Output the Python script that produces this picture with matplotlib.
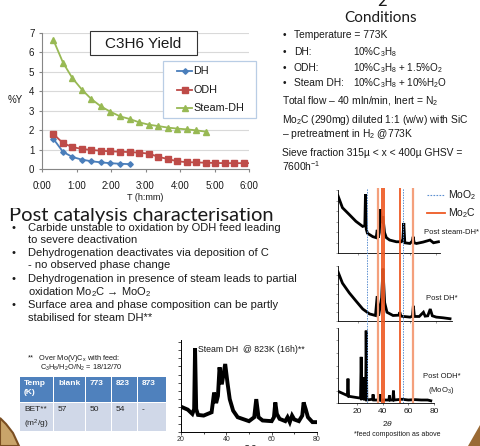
import numpy as np
import matplotlib
matplotlib.use('Agg')
import matplotlib.pyplot as plt
from matplotlib.patches import Rectangle, Polygon

plt.rcParams['font.family'] = ['Liberation Sans', 'DejaVu Sans']
plt.rcParams['mathtext.fontset'] = 'custom'
plt.rcParams['mathtext.rm'] = 'Liberation Sans'
plt.rcParams['mathtext.it'] = 'Liberation Sans:italic'
plt.rcParams['mathtext.default'] = 'regular'

# C3H6 yield data (time in hours)
dh_time = [0.33, 0.61, 0.88, 1.16, 1.43, 1.71, 1.98, 2.26, 2.55]
dh_yield = [1.55, 0.88, 0.62, 0.48, 0.40, 0.34, 0.30, 0.27, 0.25]
odh_time = [0.33, 0.61, 0.88, 1.16, 1.43, 1.71, 1.98, 2.26, 2.55, 2.82, 3.10,
            3.37, 3.65, 3.92, 4.20, 4.47, 4.75, 5.02, 5.30, 5.57, 5.85, 6.0]
odh_yield = [1.80, 1.33, 1.13, 1.03, 0.98, 0.94, 0.91, 0.89, 0.87, 0.84, 0.79,
             0.63, 0.51, 0.40, 0.35, 0.34, 0.32, 0.31, 0.30, 0.30, 0.30, 0.30]
steam_time = [0.33, 0.61, 0.88, 1.16, 1.43, 1.71, 1.98, 2.26, 2.55, 2.82, 3.10,
              3.37, 3.65, 3.92, 4.20, 4.47, 4.75]
steam_yield = [6.64, 5.47, 4.68, 4.08, 3.60, 3.22, 2.95, 2.71, 2.57, 2.40, 2.28,
               2.21, 2.13, 2.08, 2.04, 1.99, 1.92]
time_ticks = [0, 1, 2, 3, 4, 5, 6]
time_labels = ['0:00', '1:00', '2:00', '3:00', '4:00', '5:00', '6:00']

# XRD patterns (2theta, intensity a.u.)
sdh823_tt = [20, 23, 25, 25.8, 26.2, 26.7, 27.5, 30, 33.5, 34.6, 35.5, 36.3, 37.0, 38.0,
             39.5, 40.5, 41.5, 43, 45, 50, 52.3, 53.2, 54.2, 56, 60, 61.0, 61.6, 62.3,
             63.5, 66, 67, 68, 69, 70, 72, 73.5, 74.1, 75, 76, 78, 80]
sdh823_int = [77, 68, 55, 70, 255, 70, 52, 50, 60, 120, 88, 110, 197, 145,
              207, 150, 100, 65, 45, 33, 45, 100, 45, 35, 33, 45, 90, 55,
              40, 33, 45, 30, 50, 38, 33, 50, 90, 70, 45, 30, 30]

psdh_tt = [5, 8.4, 13.6, 18.7, 23.9, 25.5, 26, 26.6, 27.5, 31.6, 34.2, 35, 35.8, 36.6,
           37.5, 38.3, 39.3, 40.6, 42, 44.5, 49.6, 53.5, 54.6, 55.3, 56.1, 60, 61.8,
           62.5, 63.2, 65, 70, 75.4, 78, 81.8]
psdh_int = [168, 133, 113, 93, 78, 80, 173, 70, 58, 48, 45, 68, 45, 60,
            128, 88, 108, 60, 45, 38, 33, 33, 40, 88, 30, 28, 35,
            48, 30, 28, 32, 38, 30, 33]

pdh_tt = [5, 8.4, 13.6, 18.7, 23.9, 29, 33.6, 34.9, 36, 37.3, 38.3, 39.3, 40.6, 42.4,
          47, 51.5, 52.2, 53, 60, 61.8, 62.5, 63.3, 67, 70.2, 71.5, 73.5, 75.4, 77,
          80, 85, 90.5]
pdh_int = [152, 117, 87, 62, 37, 22, 17, 77, 17, 47, 72, 162, 57, 27,
           17, 18, 27, 15, 12, 15, 47, 14, 14, 27, 15, 16, 37, 16,
           12, 10, 7]

podh_tt = [5.8, 12.3, 12.8, 13.3, 18.7, 22.6, 23.1, 23.6, 24.8, 25.2, 25.7, 26.6, 27.0,
           27.5, 32.0, 32.4, 32.9, 37.6, 38.0, 38.5, 44.8, 45.2, 45.7, 47.9, 48.3, 48.8,
           55, 60, 65, 70, 75, 77.5]
podh_int = [30, 20, 65, 18, 15, 13, 123, 11, 12, 68, 10, 10, 193,
            8, 10, 23, 8, 8, 23, 8, 8, 20, 8, 8, 33, 8,
            10, 8, 9, 8, 8, 6]

moo2_lines = [26.9, 54.8]
mo2c_lines = [35.5, 38.5, 39.8, 52.2, 62.5]

# table
tab_cols = ['Temp\n(K)', 'blank', '773', '823', '873']
tab_vals = ['BET**\n(m$^2$/g)', '57', '50', '54', '-']

W, H = 480, 446
fig = plt.figure(figsize=(W / 100, H / 100), dpi=100)
fig.patch.set_facecolor('white')


def px_axes(x0, y0, x1, y1, **kw):
    return fig.add_axes([x0 / W, 1 - y1 / H, (x1 - x0) / W, (y1 - y0) / H], **kw)


# overlay in pixel coordinates (drawn above the chart axes)
bg = px_axes(0, 0, W, H)
bg.set_xlim(0, W)
bg.set_ylim(H, 0)
bg.axis('off')
bg.set_zorder(2)

txt = '#1a1a1a'
# decorations in corners
bg.add_patch(Polygon([(0, 418), (6, 424), (13, 433), (19, 446), (0, 446)],
                     closed=True, facecolor='#c9a46a', edgecolor='#7a4e22', lw=1.5))
bg.add_patch(Polygon([(480, 425), (480, 446), (468, 446)], closed=True,
                     facecolor='#9a6a35', edgecolor='none'))

# Conditions text
fs_c = 7.4
bg.text(382, 5.5, '2', fontsize=12, family='Lato', ha='center', va='baseline', color=txt)
bg.text(381, 18, 'Conditions', fontsize=11, family='Lato', ha='center', va='center', color=txt)
cond = [('Temperature = 773K', ''),
        ('DH:', '10%C$_3$H$_8$'),
        ('ODH:', '10%C$_3$H$_8$ + 1.5%O$_2$'),
        ('Steam DH:', '10%C$_3$H$_8$ + 10%H$_2$O')]
for (lab, val), yy in zip(cond, [35, 52, 68, 83]):
    bg.text(283, yy, '•', fontsize=fs_c, va='center', color=txt)
    bg.text(294, yy, lab, fontsize=fs_c, va='center', color=txt)
    if val:
        bg.text(353, yy, val, fontsize=7.1, va='center', color=txt)
bg.text(282, 101, 'Total flow – 40 mln/min, Inert = N$_2$', fontsize=fs_c, va='center', color=txt)
bg.text(282, 120, 'Mo$_2$C (290mg) diluted 1:1 (w/w) with SiC', fontsize=fs_c, va='center', color=txt)
bg.text(282, 134, '– pretreatment in H$_2$ @773K', fontsize=fs_c, va='center', color=txt)
bg.text(282, 153, 'Sieve fraction 315µ < x < 400µ GHSV =', fontsize=fs_c, va='center', color=txt)
bg.text(282, 166, '7600h$^{-1}$', fontsize=fs_c, va='center', color=txt)

# heading and bullets
bg.text(9, 220.5, 'Post catalysis characterisation', fontsize=14.5, family='Lato',
        va='baseline', color=txt)
bg.add_patch(Rectangle((0, 202.5), 280, 5.5, facecolor='white', edgecolor='none', zorder=5))
bg.text(145, 198, 'T (h:mm)', fontsize=6.5, ha='center', va='center', color=txt, zorder=6)

bullets = [(228, 'Carbide unstable to oxidation by ODH feed leading', True),
           (240, 'to severe deactivation', False),
           (253, 'Dehydrogenation deactivates via deposition of C', True),
           (265.5, '- no observed phase change', False),
           (279.5, 'Dehydrogenation in presence of steam leads to partial', True),
           (292, 'oxidation Mo$_2$C → MoO$_2$', False),
           (305.5, 'Surface area and phase composition can be partly', True),
           (318, 'stabilised for steam DH**', False)]
for yy, s, b in bullets:
    if b:
        bg.text(12, yy, '•', fontsize=8, va='center', color=txt)
    bg.text(28, yy, s, fontsize=8, va='center', color=txt)

# footnote and table
bg.text(27, 358, '**   Over Mo(V)C$_x$ with feed:', fontsize=5.3, va='center', color=txt)
bg.text(40, 368, 'C$_3$H$_8$/H$_2$O/N$_2$ = 18/12/70', fontsize=5.3, va='center', color=txt)
col_edges = [20, 54, 86, 112, 138, 167]
row_edges = [377, 403, 431]
for i in range(len(tab_cols)):
    x0, x1 = col_edges[i], col_edges[i + 1]
    bg.add_patch(Rectangle((x0, row_edges[0]), x1 - x0 - 1, row_edges[1] - row_edges[0] - 1,
                           facecolor='#4f81bd', edgecolor='none'))
    bg.add_patch(Rectangle((x0, row_edges[1]), x1 - x0 - 1, row_edges[2] - row_edges[1],
                           facecolor='#d0d8e8', edgecolor='none'))
    bg.text(x0 + 4, row_edges[0] + 3, tab_cols[i], fontsize=6, weight='bold', color='white',
            va='top', linespacing=1.5)
    bg.text(x0 + 4, row_edges[1] + 3, tab_vals[i], fontsize=6, color='#222222',
            va='top', linespacing=1.5)

# main yield chart
series = [('DH', dh_time, dh_yield, '#4a7ebb', 'D', 2.8),
          ('ODH', odh_time, odh_yield, '#be4b48', 's', 4),
          ('Steam-DH', steam_time, steam_yield, '#98b954', '^', 4)]
ax = px_axes(42, 33, 249, 169)
ax.set_facecolor('none')
for name, t, y, c, m, ms in series:
    ax.plot(t, y, color=c, marker=m, ms=ms, lw=1.3,
            markevery=list(range(min(len(t), 21))))
ax.set_xlim(0, 6)
ax.set_ylim(0, 7)
ax.set_xticks(time_ticks)
ax.set_xticklabels(time_labels)
ax.set_yticks(range(8))
ax.tick_params(labelsize=7, length=2.5, color='#868686', colors=txt, pad=3)
ax.tick_params(axis='x', pad=6)
ax.grid(axis='y', color='#d9d9d9', lw=0.8)
ax.set_axisbelow(True)
for s in ['top', 'right']:
    ax.spines[s].set_visible(False)
for s in ['left', 'bottom']:
    ax.spines[s].set_color('#868686')
bg.text(15, 100, '%Y', fontsize=7, ha='center', va='center', color=txt)
bg.add_patch(Rectangle((90, 31), 107, 24, facecolor='white', edgecolor='#333333', lw=0.8, zorder=3))
bg.text(143.5, 43.5, 'C3H6 Yield', fontsize=11, ha='center', va='center', color=txt, zorder=4)

# legend box
bg.add_patch(Rectangle((163, 61), 93, 57, facecolor='white', edgecolor='#b9cde5', lw=0.9, zorder=3))
for (name, t, y, c, m, ms), yy in zip(series, [71, 90, 108]):
    bg.plot([177, 192], [yy, yy], color=c, lw=1.3, zorder=4)
    bg.plot([184.5], [yy], color=c, marker=m, ms=ms, zorder=4)
    bg.text(193, yy, name, fontsize=7.8, va='center', color=txt, zorder=4)

# Steam DH @ 823K inset
xa = px_axes(181, 340, 317, 432)
xa.set_facecolor('none')
xa.plot(sdh823_tt, sdh823_int, color='black', lw=2.8, solid_joinstyle='miter')
xa.set_xlim(20, 80)
xa.set_ylim(0, 280)
xa.set_xticks([20, 40, 60, 80])
xa.set_xticks([30, 50, 70], minor=True)
xa.set_yticks(range(0, 281, 25))
xa.set_yticklabels([])
xa.tick_params(labelsize=5, length=2, width=0.6, pad=1, colors='#333333')
xa.tick_params(which='minor', length=1.5, width=0.5)
for s in ['top', 'right']:
    xa.spines[s].set_visible(False)
for s in ['left', 'bottom']:
    xa.spines[s].set_linewidth(0.7)
bg.text(198, 349, 'Steam DH  @ 823K (16h)**', fontsize=6.3, va='center', color=txt)
bg.text(250, 449, r'2$\it{\theta}$', fontsize=8, ha='center', va='center', color=txt)

# stacked XRD panels
panels = [((338, 190, 440, 253), psdh_tt, psdh_int, (5, 83), 185),
          ((338, 266, 452, 321), pdh_tt, pdh_int, (5, 92), 170),
          ((338, 328, 434, 403), podh_tt, podh_int, (5, 78.5), 200)]
for (x0, y0, x1, y1), tt, it, xl, ytop in panels:
    pa = px_axes(x0, y0, x1, y1)
    pa.set_facecolor('none')
    pa.plot(tt, it, color='black', lw=2.0, solid_joinstyle='miter')
    pa.set_xlim(*xl)
    pa.set_ylim(0, ytop)
    pa.set_xticks([20, 40, 60, 80])
    pa.set_xticklabels([])
    pa.set_yticks(np.linspace(0, ytop, 7))
    pa.set_yticklabels([])
    pa.tick_params(length=1.5, width=0.4, colors='#555555')
    for s in ['top', 'right']:
        pa.spines[s].set_visible(False)
    for s in ['left', 'bottom']:
        pa.spines[s].set_linewidth(0.6)
    last = pa
last.set_xticklabels(['20', '40', '60', '80'])
last.tick_params(axis='x', labelsize=6, pad=2, colors=txt)

ov = px_axes(338, 188, 440, 403)
ov.set_xlim(5, 83)
ov.axis('off')
for v in moo2_lines:
    ov.axvline(v, color='#5b8fd0', lw=0.7, ls=(0, (1.5, 1.2)))
for i, v in enumerate(mo2c_lines):
    light = i in (0, 4)
    ov.axvline(v, color='#f4a07c' if light else '#ee5a24', lw=1.6 if light else 1.3)

bg.plot([427, 445], [195, 195], color='#5b8fd0', lw=0.8, ls=(0, (1.5, 1.2)))
bg.text(448, 195, 'MoO$_2$', fontsize=7.5, va='center', color=txt)
bg.plot([427, 445], [213, 213], color='#ee5a24', lw=1.3)
bg.text(448, 213, 'Mo$_2$C', fontsize=7.5, va='center', color=txt)
bg.text(452, 233, 'Post steam-DH*', fontsize=5.5, ha='center', va='center', color=txt)
bg.text(442, 299, 'Post DH*', fontsize=5.5, ha='center', va='center', color=txt)
bg.text(442, 376, 'Post ODH*', fontsize=5.5, ha='center', va='center', color=txt)
bg.text(441, 391, '(MoO$_3$)', fontsize=5.5, ha='center', va='center', color=txt)
bg.text(388, 424, r'2$\it{\theta}$', fontsize=6, ha='center', va='center', color=txt)
bg.text(397, 435, '*feed composition as above', fontsize=5, ha='center', va='center', color=txt)

fig.savefig('out.png', dpi=100)
